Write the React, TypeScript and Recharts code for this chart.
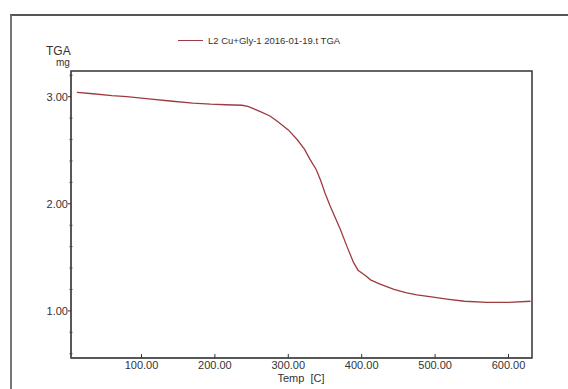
import React from 'react';
import { LineChart, Line, XAxis, YAxis, ReferenceArea } from 'recharts';

// readings taken off the TGA trace (temperature in C, mass in mg)
const TEMPS = [12, 30, 60, 80, 110, 139, 170, 194, 215, 237, 245, 262, 275, 285, 300, 312, 322, 330, 338, 344, 350, 357, 364, 371, 380, 389, 395, 405, 412, 425, 444, 460, 475, 495, 516, 540, 571, 600, 630];
const MASS = [3.04, 3.03, 3.01, 3.0, 2.98, 2.96, 2.94, 2.93, 2.925, 2.92, 2.91, 2.86, 2.82, 2.77, 2.69, 2.6, 2.51, 2.41, 2.32, 2.22, 2.1, 1.98, 1.87, 1.76, 1.6, 1.45, 1.38, 1.33, 1.29, 1.25, 1.2, 1.17, 1.15, 1.13, 1.11, 1.09, 1.08, 1.08, 1.09];

const X_TICKS = [100, 200, 300, 400, 500, 600];
const Y_TICKS = [0.6, 0.8, 1, 1.2, 1.4, 1.6, 1.8, 2, 2.2, 2.4, 2.6, 2.8, 3, 3.2];
const X_DOMAIN = [4, 632];
const Y_DOMAIN = [0.56, 3.24];

const SERIES_NAME = 'L2 Cu+Gly-1 2016-01-19.t TGA';

const data = TEMPS.map((t, i) => ({ temp: t, mass: MASS[i] }));

const FONT = '"Liberation Sans", Arial, sans-serif';
const LINE_COLOR = '#9e3b3f';

// tickSize/tickMargin are 0 so x,y sit right on the axis line
const renderXTick = (props: any) => {
    const { x, y, payload } = props;
    return (
        <g key={`xt-${payload.value}`}>
            <line x1={x} x2={x} y1={y} y2={y - 4} stroke="#333" strokeWidth={1} />
            <text x={x} y={y + 11} textAnchor="middle" fontSize={11} fill="#333" fontFamily={FONT}>
                {Number(payload.value).toFixed(2)}
            </text>
        </g>
    );
};

const renderYTick = (props: any) => {
    const { x, y, payload } = props;
    const v = Number(payload.value);
    const major = Math.abs(v - Math.round(v)) < 0.001;
    if (!major) {
        return <line key={`yt-${v}`} x1={x - 1.5} x2={x + 1.5} y1={y} y2={y} stroke="#444" strokeWidth={1} />;
    }
    return (
        <g key={`yt-${v}`}>
            <line x1={x - 3} x2={x} y1={y} y2={y} stroke="#333" strokeWidth={1} />
            <text x={x - 3} y={y + 4} textAnchor="end" fontSize={11} fill="#333" fontFamily={FONT}>
                {v.toFixed(2)}
            </text>
        </g>
    );
};

export default function App() {
    return (
        <div style={{ position: 'absolute', left: 0, top: 0, width: 568, height: 389, overflow: 'hidden', background: '#fff', fontFamily: FONT }}>
            {/* outer frame */}
            <div style={{ position: 'absolute', left: 10, top: 14, width: 600, height: 400, borderLeft: '2px solid #777', borderTop: '2px solid #555' }} />

            {/* legend */}
            <div style={{ position: 'absolute', left: 178, top: 35, display: 'flex', alignItems: 'center', fontSize: 9.5, color: '#333', whiteSpace: 'nowrap' }}>
                <span style={{ display: 'inline-block', width: 25, height: 0, borderTop: `1.5px solid ${LINE_COLOR}`, marginRight: 5 }} />
                {SERIES_NAME}
            </div>

            {/* axis titles */}
            <div style={{ position: 'absolute', left: 46, top: 44, fontSize: 12, color: '#333' }}>TGA</div>
            <div style={{ position: 'absolute', left: 56, top: 57, fontSize: 10, color: '#333' }}>mg</div>
            <div style={{ position: 'absolute', left: 0, width: 602, top: 372, textAlign: 'center', fontSize: 11, color: '#333' }}>Temp&nbsp; [C]</div>

            <div style={{ position: 'absolute', left: 0, top: 0 }}>
                <LineChart width={568} height={389} data={data} margin={{ top: 71, right: 36, bottom: 1, left: 11 }}>
                    <ReferenceArea
                        x1={X_DOMAIN[0]}
                        x2={X_DOMAIN[1]}
                        y1={Y_DOMAIN[0]}
                        y2={Y_DOMAIN[1]}
                        fill="none"
                        fillOpacity={0}
                        stroke="#333"
                        strokeWidth={1.5}
                        strokeOpacity={1}
                        ifOverflow="visible"
                    />
                    <XAxis
                        dataKey="temp"
                        type="number"
                        domain={X_DOMAIN}
                        ticks={X_TICKS}
                        height={30}
                        tickSize={0}
                        tickMargin={0}
                        tickLine={false}
                        tick={renderXTick}
                        axisLine={{ stroke: '#555', strokeWidth: 1.5 }}
                        interval={0}
                        allowDataOverflow
                    />
                    <YAxis
                        type="number"
                        domain={Y_DOMAIN}
                        ticks={Y_TICKS}
                        width={60}
                        tickSize={0}
                        tickMargin={0}
                        tickLine={false}
                        tick={renderYTick}
                        axisLine={{ stroke: '#555', strokeWidth: 1.5 }}
                        interval={0}
                        allowDataOverflow
                    />
                    <Line
                        type="linear"
                        dataKey="mass"
                        name={SERIES_NAME}
                        stroke={LINE_COLOR}
                        strokeWidth={1.3}
                        dot={false}
                        isAnimationActive={false}
                    />
                </LineChart>
            </div>
        </div>
    );
}
